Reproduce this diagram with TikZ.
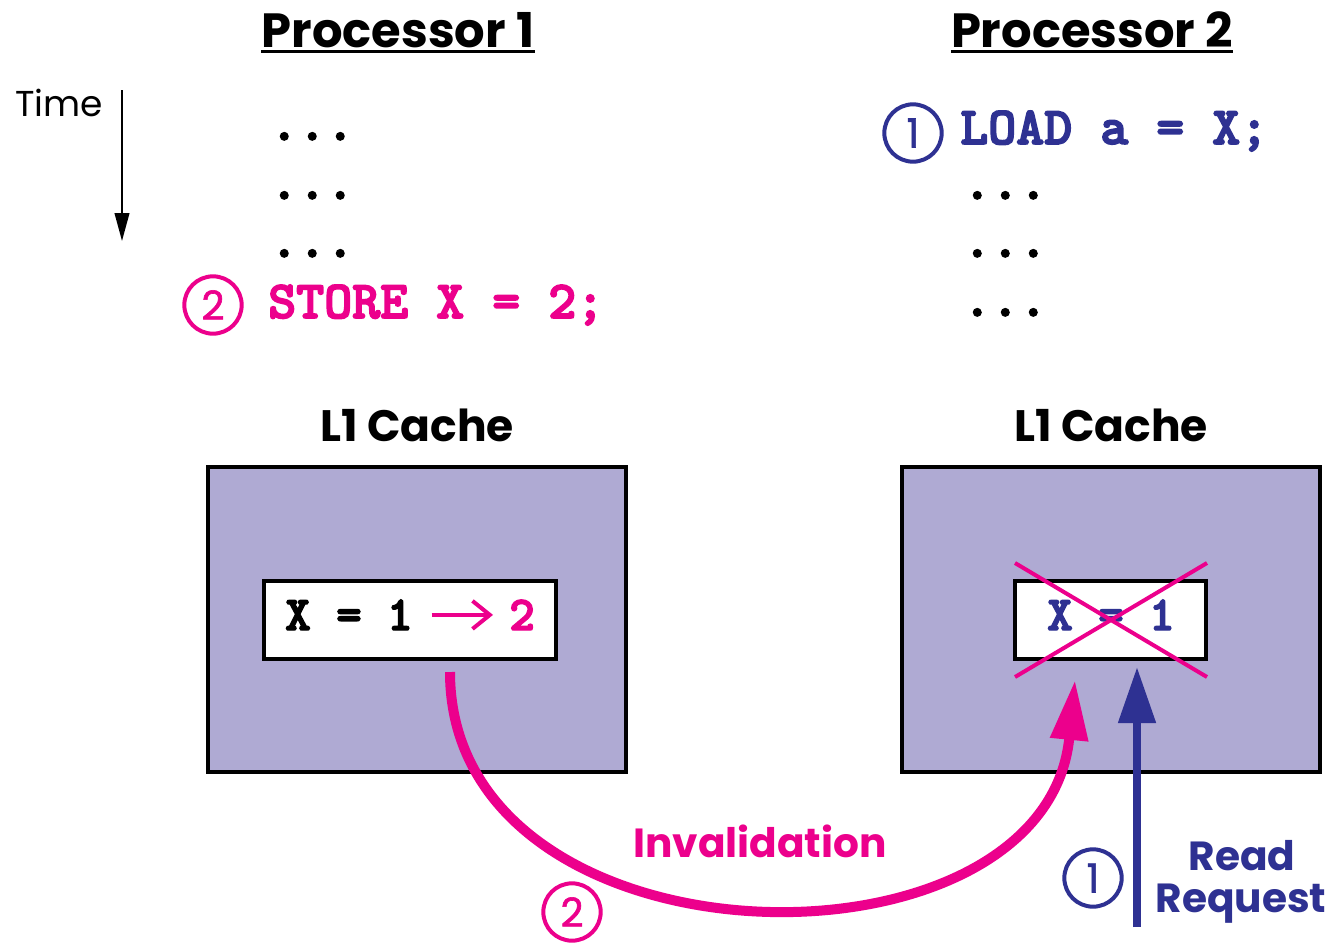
\documentclass[tikz,border=0pt]{standalone}
\usepackage{fontspec}
\setmainfont{Poppins}
\newfontfamily\codefont{lmmonolt10-bold.otf}[FakeBold=3]
\newfontfamily\digitfont{Poppins}[FakeBold=1.5]
\usetikzlibrary{arrows.meta}
\definecolor{cachefill}{HTML}{AFAAD3}
\definecolor{procblue}{HTML}{2E3192}
\definecolor{procpink}{HTML}{EC008C}
\tikzset{
  title/.style={font=\bfseries\fontsize{36pt}{36pt}\selectfont, inner sep=0pt, anchor=base},
  underline/.style={line width=2.5pt},
  timelabel/.style={font=\fontsize{27pt}{27pt}\selectfont, inner sep=0pt, anchor=base west},
  code/.style={font=\codefont\fontsize{40pt}{40pt}\selectfont, inner sep=0pt, anchor=base west},
  cell/.style={font=\codefont\fontsize{36.4pt}{36.4pt}\selectfont, inner sep=0pt, anchor=base west},
  cachetitle/.style={font=\bfseries\fontsize{33pt}{33pt}\selectfont, inner sep=0pt, anchor=base},
  stepnum/.style={circle, draw=#1, text=#1, line width=3pt, minimum size=43pt, inner sep=0pt,
    font=\digitfont\fontsize{30pt}{30pt}\selectfont},
  cachebox/.style={draw=black, fill=cachefill, line width=3pt, minimum width=313.5pt, minimum height=228.75pt},
  linebox/.style={draw=black, fill=white, line width=3pt, minimum height=58.5pt},
  bigtext/.style={font=\bfseries\fontsize{30.5pt}{30.5pt}\selectfont, inner sep=0pt, anchor=base},
  timearrow/.style={line width=1.5pt, -{Triangle[length=21pt,width=11pt]}},
  cross/.style={procpink, line width=3pt},
  invarrow/.style={procpink, line width=7.5pt, -{Triangle[length=45pt,width=27pt]}},
  readarrow/.style={procblue, line width=6pt, -{Triangle[length=42pt,width=27pt]}},
  smallarrow/.style={procpink, line width=3pt, -{Straight Barb[length=13pt,width=21pt,line width=3pt]}},
}
\begin{document}
\begin{tikzpicture}[x=0.75pt,y=-0.75pt]
  % canvas
  \useasboundingbox (0,0) rectangle (1330,943);
  \path[fill=white] (0,0) rectangle (1330,943);

  % processor headings
  \node[title] (p1) at (398,47) {Processor 1};
  \draw[underline] ([yshift=-3.5pt]p1.base west) -- ([yshift=-3.5pt]p1.base east);
  \node[title] (p2) at (1092,47) {Processor 2};
  \draw[underline] ([yshift=-3.5pt]p2.base west) -- ([yshift=-3.5pt]p2.base east);

  % time axis
  \node[timelabel] (time) at (15,116) {Time};
  \coordinate (t0) at (122,90);
  \coordinate (t1) at (122,241);
  \draw[timearrow] (t0) -- (t1);

  % processor 1 program
  \node[code] (a1) at (270,140) {...};
  \node[code] (a2) at (270,199) {...};
  \node[code] (a3) at (270,257) {...};
  \node[stepnum=procpink] (s2) at (213,305) {2};
  \node[code, text=procpink] (store) at (268,318) {STORE X = 2;};

  % processor 2 program
  \node[stepnum=procblue] (s1) at (913,133) {1};
  \node[code, text=procblue] (load) at (960,144) {LOAD a = X;};
  \node[code] (b1) at (963,199) {...};
  \node[code] (b2) at (963,257) {...};
  \node[code] (b3) at (963,316) {...};

  % caches
  \node[cachetitle] (c1) at (417,441) {L1 Cache};
  \node[cachetitle] (c2) at (1111,441) {L1 Cache};
  \node[cachebox] (cb1) at (417,619.5) {};
  \node[cachebox] (cb2) at (1111,619.5) {};
  \node[linebox, minimum width=219pt] (lb1) at (410,620) {};
  \node[linebox, minimum width=143.25pt] (lb2) at (1110.5,620) {};

  % cache line contents
  \node[cell] (v1) at (285,630) {X = 1};
  \node[cell, text=procpink] (v2) at (509,630) {2};
  \draw[smallarrow] ([xshift=14pt]v1.east) -- ([xshift=-12pt]v2.west);
  \node[cell, text=procblue] (v3) at (1047,630) {X = 1};

  % invalidated line
  \coordinate (x1) at (1015,563);
  \coordinate (x2) at (1207,677);
  \coordinate (x3) at (1015,677);
  \coordinate (x4) at (1207,563);
  \draw[cross] (x1) -- (x2);
  \draw[cross] (x3) -- (x4);

  % invalidation message
  \coordinate (inv0) at (450,672);
  \coordinate (inv1) at (1075,680);
  \draw[invarrow] (inv0) .. controls (450,975) and (1045,985) .. (inv1);
  \node[bigtext, text=procpink] (invl) at (760,857) {Invalidation};
  \node[stepnum=procpink] (s2b) at (572,912) {2};

  % read request
  \coordinate (rr0) at (1137,927);
  \coordinate (rr1) at (1137,667);
  \draw[readarrow] (rr0) -- (rr1);
  \node[stepnum=procblue] (s1b) at (1093,878) {1};
  \node[bigtext, text=procblue] (rq1) at (1242,870) {Read};
  \node[bigtext, text=procblue] (rq2) at (1241,912) {Request};
\end{tikzpicture}
\end{document}
